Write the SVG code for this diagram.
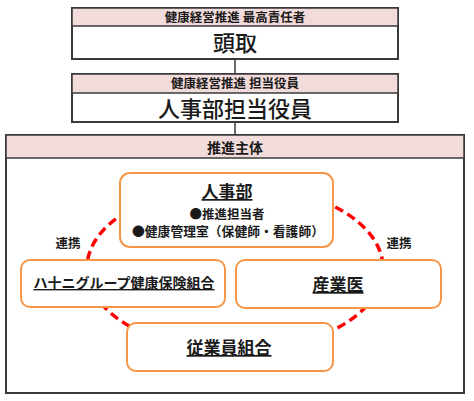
<svg xmlns="http://www.w3.org/2000/svg" width="474" height="401" viewBox="0 0 474 401">
<style>
.frame{fill:#fff;stroke:#3a3a3a;stroke-width:2}
.band{fill:#f2dcdb;stroke:#3a3a3a;stroke-width:1.5}
.node{fill:#fff;stroke:#f79646;stroke-width:2}
.t{font-family:"Noto Sans CJK JP","Noto Sans",sans-serif;fill:#1a1a1a;text-anchor:middle}
.hd{font-size:12.5px;font-weight:bold}
.big{font-size:22px;font-weight:500}
.lab{font-size:17px;font-weight:bold;text-decoration:underline}
.sm{font-size:12.5px;font-weight:bold}
.conn{stroke:#3a3a3a;stroke-width:1.5;fill:none}
.link{stroke:#ff0000;stroke-width:3.5;fill:none;stroke-dasharray:9 5}
</style>
<rect width="474" height="401" fill="#fff"/>
<g id="connectors">
<line class="conn" x1="235" y1="59" x2="235" y2="74"/>
<line class="conn" x1="235" y1="122" x2="235" y2="135"/>
</g>
<g id="top">
<rect class="frame" x="72" y="8" width="326" height="51"/>
<rect class="band" x="72" y="8" width="326" height="18"/>
<text class="t hd" x="235" y="21.5">健康経営推進 最高責任者</text>
<text class="t big" x="235" y="51">頭取</text>
</g>
<g id="officer">
<rect class="frame" x="72" y="74" width="326" height="48"/>
<rect class="band" x="72" y="74" width="326" height="19"/>
<text class="t hd" x="235" y="88">健康経営推進 担当役員</text>
<text class="t big" x="235" y="117">人事部担当役員</text>
</g>
<g id="promotion">
<rect class="frame" x="6" y="135" width="458" height="258"/>
<rect class="band" x="6" y="135" width="458" height="23"/>
<text class="t" x="235" y="153" style="font-size:14px;font-weight:bold">推進主体</text>
</g>
<g id="links">
<ellipse class="link" cx="235" cy="268" rx="148" ry="83"/>
<text class="t sm" x="68" y="248">連携</text>
<text class="t sm" x="399" y="248">連携</text>
</g>
<g id="hr">
<rect class="node" x="120" y="173" width="213" height="74" rx="10"/>
<text class="t lab" x="227" y="198">人事部</text>
<text class="t sm" x="227" y="218.5" style="font-size:12.5px">●推進担当者</text>
<text class="t sm" x="228" y="236" style="font-size:12.8px">●健康管理室（保健師・看護師）</text>
</g>
<g id="kenpo">
<rect class="node" x="21" y="260" width="204" height="47" rx="9"/>
<text class="t lab" x="124" y="288" style="font-size:14px">ハ十ニグループ健康保険組合</text>
</g>
<g id="doctor">
<rect class="node" x="236" y="260" width="205" height="48" rx="9"/>
<text class="t lab" x="338" y="291">産業医</text>
</g>
<g id="union">
<rect class="node" x="127" y="323" width="206" height="48" rx="9"/>
<text class="t lab" x="229" y="354">従業員組合</text>
</g>
</svg>
